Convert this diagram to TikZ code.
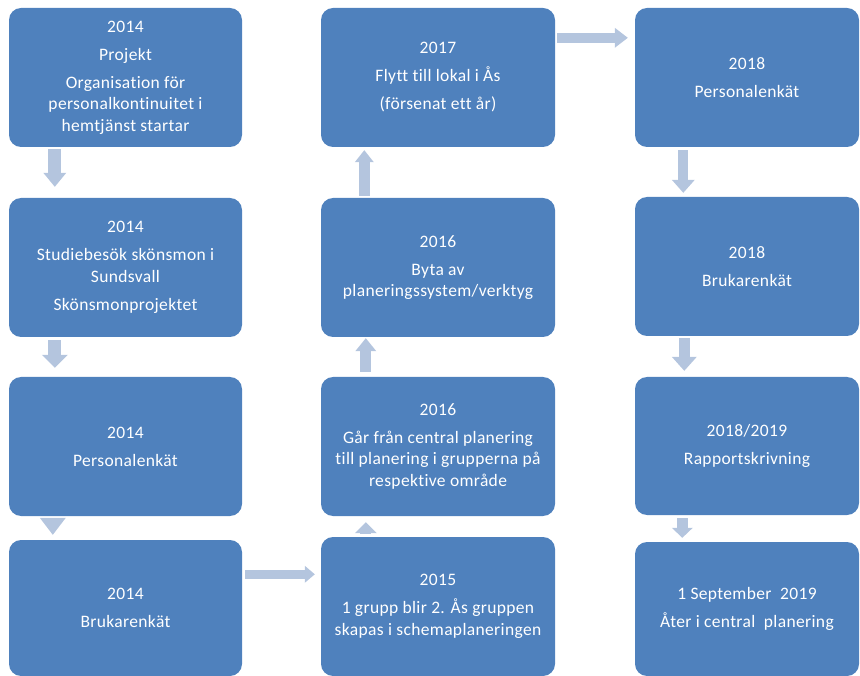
\documentclass[tikz,border=0pt]{standalone}
\usepackage{fontspec}
\setmainfont{Carlito}[Ligatures=NoCommon, LetterSpace=2]
\usetikzlibrary{arrows.meta}
\definecolor{boxblue}{HTML}{4F81BD}
\definecolor{arrowblue}{HTML}{B4C5DE}
\tikzset{
  tbox/.style={fill=boxblue, draw=none, rounded corners=12pt, text=white,
    align=center, inner sep=0pt, font=\fontsize{17.5}{21.5}\selectfont},
  blockarrow/.style={draw=arrowblue, line cap=butt},
}
\newcommand{\pgap}{\\[6.5pt]}
\begin{document}
\begin{tikzpicture}[x=1pt,y=-1pt]
\useasboundingbox (0,0) rectangle (860,676);
% column 1
\node[tbox, minimum width=233pt, minimum height=139pt] (b1) at (125.5,77.5)
  {2014\pgap Projekt\pgap Organisation för\\ personalkontinuitet i\\ hemtjänst startar};
\node[tbox, minimum width=233pt, minimum height=139pt] (b2) at (125.5,267.5)
  {2014\pgap Studiebesök skönsmon i\\ Sundsvall\pgap Skönsmonprojektet};
\node[tbox, minimum width=233pt, minimum height=139pt] (b3) at (125.5,446.5)
  {2014\pgap Personalenkät};
\node[tbox, minimum width=233pt, minimum height=136pt] (b4) at (125.5,608)
  {2014\pgap Brukarenkät};
% column 2
\node[tbox, minimum width=234pt, minimum height=139pt] (c1) at (438,77.5)
  {2017\pgap Flytt till lokal i Ås\pgap (försenat ett år)};
\node[tbox, minimum width=234pt, minimum height=139pt] (c2) at (438,267.5)
  {2016\pgap Byta av\\ planeringssystem/verktyg};
\node[tbox, minimum width=234pt, minimum height=139pt] (c3) at (438,446.5)
  {2016\pgap Går från central planering\\ till planering i grupperna på\\ respektive område};
\node[tbox, minimum width=234pt, minimum height=139pt] (c4) at (438,606.5)
  {2015\pgap 1 grupp blir 2. Ås gruppen\\ skapas i schemaplaneringen};
% column 3
\node[tbox, minimum width=224pt, minimum height=139pt] (d1) at (747,77.5)
  {2018\pgap Personalenkät};
\node[tbox, minimum width=224pt, minimum height=139pt] (d2) at (747,266.5)
  {2018\pgap Brukarenkät};
\node[tbox, minimum width=224pt, minimum height=138pt] (d3) at (747,446)
  {2018/2019\pgap Rapportskrivning};
\node[tbox, minimum width=224pt, minimum height=134pt] (d4) at (747,609)
  {1 September~~2019\pgap Åter i central~~planering};
% arrows
\draw[blockarrow, line width=13pt, -{Triangle[width=23pt,length=14pt,line width=0pt]}]
  ([xshift=46pt,yshift=-2pt]b1.south west) -- ([xshift=46pt,yshift=11pt]b2.north west);
\draw[blockarrow, line width=13pt, -{Triangle[width=26pt,length=13pt,line width=0pt]}]
  ([xshift=46pt,yshift=-3pt]b2.south west) -- ([xshift=46pt,yshift=9pt]b3.north west);
\draw[blockarrow, line width=13pt, -{Triangle[width=26pt,length=17pt,line width=0pt]}]
  ([xshift=44pt,yshift=-2pt]b3.south west) -- ([xshift=44pt,yshift=5pt]b4.north west);
\draw[blockarrow, line width=9pt, -{Triangle[width=17pt,length=10pt,line width=0pt]}]
  ([xshift=3pt,yshift=-34.5pt]b4.north east) -- ([xshift=-6pt,yshift=-37.5pt]c4.north west);
\draw[blockarrow, line width=11pt, -{Triangle[width=22pt,length=11pt,line width=0pt]}]
  ([xshift=45pt,yshift=4pt]c4.north west) -- ([xshift=45pt,yshift=-6pt]c3.south west);
\draw[blockarrow, line width=11pt, -{Triangle[width=21pt,length=13pt,line width=0pt]}]
  ([xshift=45pt,yshift=5pt]c3.north west) -- ([xshift=45pt,yshift=-1pt]c2.south west);
\draw[blockarrow, line width=11pt, -{Triangle[width=19pt,length=12pt,line width=0pt]}]
  ([xshift=43.5pt,yshift=2pt]c2.north west) -- ([xshift=43.5pt,yshift=-3pt]c1.south west);
\draw[blockarrow, line width=10pt, -{Triangle[width=20pt,length=13pt,line width=0pt]}]
  ([xshift=2pt,yshift=-30pt]c1.north east) -- ([xshift=-7pt,yshift=-30pt]d1.north west);
\draw[blockarrow, line width=10pt, -{Triangle[width=23pt,length=13pt,line width=0pt]}]
  ([xshift=48.5pt,yshift=-3pt]d1.south west) -- ([xshift=48.5pt,yshift=4pt]d2.north west);
\draw[blockarrow, line width=11pt, -{Triangle[width=25pt,length=14pt,line width=0pt]}]
  ([xshift=49.5pt,yshift=-2pt]d2.south west) -- ([xshift=49.5pt,yshift=6pt]d3.north west);
\draw[blockarrow, line width=11pt, -{Triangle[width=21pt,length=10pt,line width=0pt]}]
  ([xshift=47.5pt,yshift=-3pt]d3.south west) -- ([xshift=47.5pt,yshift=4pt]d4.north west);
\end{tikzpicture}
\end{document}
